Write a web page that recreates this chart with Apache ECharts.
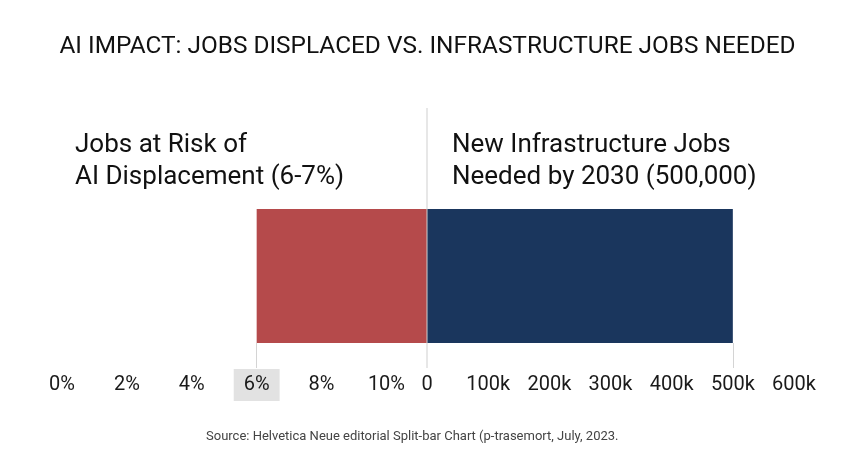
<!DOCTYPE html>
<html>
<head>
<meta charset="utf-8">
<script src="https://cdn.jsdelivr.net/npm/echarts@6/dist/echarts.min.js"></script>
<style>
  html, body { margin: 0; padding: 0; background: #fff; }
  #chart { width: 855px; height: 466px; }
</style>
</head>
<body>
<div id="chart"></div>
<script>
// data
var rowLabels = ['Jobs'];
var displacedStart = [6];           // % where the red bar begins
var infraJobs = [500000];           // new infrastructure jobs by 2030
var pctTicks = [0, 2, 4, 6, 8, 10]; // left axis tick labels (%)
var jobTicks = [0, 100000, 200000, 300000, 400000, 500000, 600000];
var highlightPct = 6;

var PCT_MAX = 11.25;   // left axis ends at the divider
var JOB_MAX = 600000;

var font = 'Roboto, "Noto Sans", sans-serif';

var chart = echarts.init(document.getElementById('chart'));

var labelRich = {
    n: { fontSize: 20, color: '#1a1a1a', fontFamily: font, padding: [6, 10] },
    hl: { fontSize: 20, color: '#1a1a1a', fontFamily: font, padding: [6, 10], backgroundColor: '#e2e2e2' }
};

var option = {
    animation: false,
    backgroundColor: '#fff',
    title: [
        {
            text: 'AI IMPACT: JOBS DISPLACED VS. INFRASTRUCTURE JOBS NEEDED',
            left: 'center',
            top: 30,
            textStyle: { fontFamily: font, fontSize: 24.4, fontWeight: 'normal', color: '#111' }
        },
        {
            text: 'Jobs at Risk of\nAI Displacement (6-7%)',
            left: 70,
            top: 124,
            textStyle: { fontFamily: font, fontSize: 26, fontWeight: 'normal', color: '#111', lineHeight: 32 }
        },
        {
            text: 'New Infrastructure Jobs\nNeeded by 2030 (500,000)',
            left: 447,
            top: 124,
            textStyle: { fontFamily: font, fontSize: 26, fontWeight: 'normal', color: '#111', lineHeight: 32 }
        },
        {
            text: 'Source: Helvetica Neue editorial Split-bar Chart (p-trasemort, July, 2023.',
            left: 201,
            top: 425,
            textStyle: { fontFamily: font, fontSize: 13, fontWeight: 'normal', color: '#444' }
        }
    ],
    grid: [
        { left: 62, right: 428, top: 209, height: 134 },
        { left: 427, right: 61, top: 209, height: 134 }
    ],
    xAxis: [
        {
            type: 'value', gridIndex: 0, min: 0, max: PCT_MAX, interval: 2,
            splitLine: { show: false },
            axisLine: { show: false },
            axisTick: { show: true, customValues: [highlightPct], length: 25, lineStyle: { color: '#d4d4d4' } },
            axisLabel: {
                margin: 26,
                customValues: pctTicks,
                formatter: function (v) {
                    if (pctTicks.indexOf(v) < 0) return '';
                    return v === highlightPct ? '{hl|' + v + '%}' : '{n|' + v + '%}';
                },
                rich: labelRich
            }
        },
        {
            type: 'value', gridIndex: 1, min: 0, max: JOB_MAX, interval: 100000,
            splitLine: { show: false },
            axisLine: { show: false },
            axisTick: { show: true, customValues: [infraJobs[0]], length: 25, lineStyle: { color: '#d4d4d4' } },
            axisLabel: {
                margin: 26,
                customValues: jobTicks,
                formatter: function (v) {
                    return '{n|' + (v === 0 ? '0' : (v / 1000) + 'k') + '}';
                },
                rich: labelRich
            }
        }
    ],
    yAxis: [
        { type: 'category', gridIndex: 0, data: rowLabels, show: false },
        { type: 'category', gridIndex: 1, data: rowLabels, show: false }
    ],
    series: [
        {
            name: 'base', type: 'bar', xAxisIndex: 0, yAxisIndex: 0, stack: 'risk',
            barWidth: '100%', silent: true,
            itemStyle: { color: 'transparent' },
            data: displacedStart
        },
        {
            name: 'Jobs at Risk', type: 'bar', xAxisIndex: 0, yAxisIndex: 0, stack: 'risk',
            barWidth: '100%',
            itemStyle: { color: '#b54a4b' },
            data: displacedStart.map(function (s) { return PCT_MAX - s; })
        },
        {
            name: 'Infrastructure Jobs', type: 'bar', xAxisIndex: 1, yAxisIndex: 1,
            barWidth: '100%',
            itemStyle: { color: '#1a365d' },
            data: infraJobs
        }
    ]
};

chart.setOption(option);

// divider line at the shared zero
var divX = chart.convertToPixel({ xAxisIndex: 1 }, 0);
chart.setOption({
    graphic: [{
        type: 'line', z: 10,
        shape: { x1: divX, y1: 108, x2: divX, y2: 368 },
        style: { stroke: '#cfcfcf', lineWidth: 1 }
    }]
});
</script>
</body>
</html>
